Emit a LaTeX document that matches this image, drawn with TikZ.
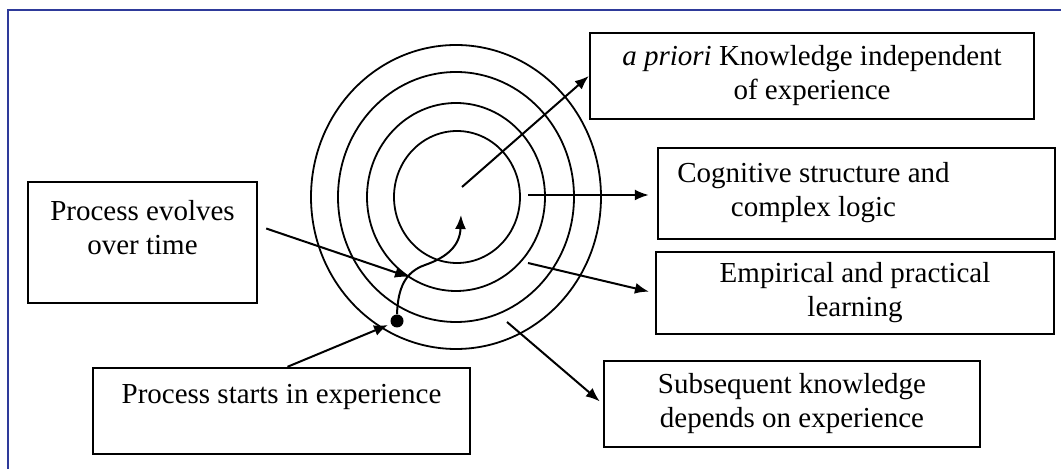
\documentclass[tikz,border=0pt]{standalone}
\usepackage{fontspec}
\setmainfont{Liberation Serif}
\usetikzlibrary{arrows.meta}
\definecolor{framecol}{RGB}{46,58,154}

\begin{document}
\begin{tikzpicture}[x=0.5pt,y=-0.5pt,
    box/.style={draw,rectangle,line width=1.2pt,inner sep=0pt},
    txt/.style={align=center,inner sep=0pt,font=\fontsize{14.5pt}{17pt}\selectfont},
    arr/.style={line width=1pt,-{Latex[length=7pt,width=5.5pt]}}]

    \useasboundingbox[fill=white] (0,0) rectangle (1061,469);
    \draw[framecol,line width=1pt] (8,469) -- (8,10) -- (1061,10);

    \draw[line width=0.9pt] (456,197) ellipse [x radius=145,y radius=152];
    \draw[line width=0.9pt] (456,197) ellipse [x radius=118,y radius=125];
    \draw[line width=0.9pt] (456,197) ellipse [x radius=89,y radius=94];
    \draw[line width=0.9pt] (457,197) ellipse [x radius=63,y radius=66];

    \node[box,minimum width=222pt,minimum height=43pt,txt] (apriori) at (812,76)
        {\textit{a priori} Knowledge independent\\of experience};
    \node[box,minimum width=198.5pt,minimum height=45.5pt] (cog) at (856.5,193.5) {};
    \node[txt] (cogtext) at ([xshift=-21.5pt,yshift=0.5pt]cog.center)
        {Cognitive structure and\\complex logic};
    \node[box,minimum width=199pt,minimum height=41pt,txt] (emp) at (855,293)
        {Empirical and practical\\learning};
    \node[box,minimum width=188pt,minimum height=43pt,txt] (subs) at (792,404)
        {Subsequent knowledge\\depends on experience};
    \node[box,minimum width=114.5pt,minimum height=60.5pt] (evolve) at (142.5,242.5) {};
    \node[txt] (evolvetext) at ([yshift=7.5pt]evolve.center) {Process evolves\\over time};
    \node[box,minimum width=188.5pt,minimum height=43pt] (starts) at (281.5,411) {};
    \node[txt] (startstext) at ([yshift=7pt]starts.center) {Process starts in experience};

    \node[circle,fill,inner sep=0pt,minimum size=6.5pt] (dot) at (397,321) {};

    \coordinate (core) at (462,187);
    \coordinate (mid) at (528,195);
    \coordinate (low) at (528,263);
    \coordinate (rim) at (507,322);
    \coordinate (evend) at (409,277);
    \coordinate (stend) at (388,325);
    \coordinate (tip) at (461,215);

    \draw[arr] (core) -- (apriori.west);
    \draw[arr,shorten >=4pt] (mid) -- (mid -| cog.west);
    \draw[arr,shorten >=3pt] (low) -- (emp.west);
    \draw[arr,shorten >=2pt] (rim) -- (subs.west);
    \draw[arr] ([xshift=4pt,yshift=7pt]evolve.east) -- (evend);
    \draw[arr] ([xshift=3pt]starts.north) -- (stend);
    \draw[arr] (dot.north) .. controls (398,288) and (405,272) .. (425,265)
        .. controls (448,257) and (460,245) .. (tip);

\end{tikzpicture}
\end{document}
